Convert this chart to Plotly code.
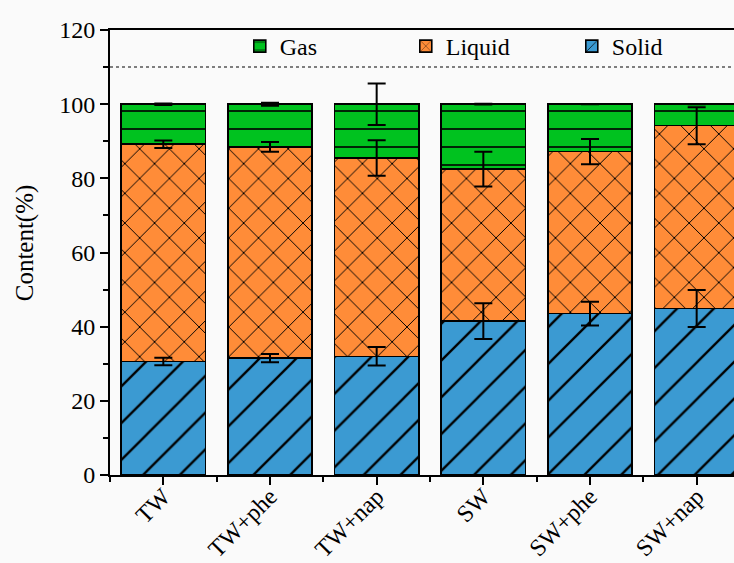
import numpy as np
import plotly.graph_objects as go

categories = ["TW", "TW+phe", "TW+nap", "SW", "SW+phe", "SW+nap"]
solid = [30.6, 31.5, 32.0, 41.5, 43.5, 44.9]
liquid = [58.6, 57.0, 53.5, 41.0, 43.7, 49.3]
gas = [10.8, 11.5, 14.5, 17.5, 12.8, 5.8]
solid_err = [1.0, 1.1, 2.5, 4.8, 3.2, 5.0]
liquid_err = [1.0, 1.3, 4.8, 4.7, 3.4, 5.0]
gas_err = [0.2, 0.4, 5.6, 0.1, 0.0, 0.0]
y_ticks = [0, 20, 40, 60, 80, 100, 120]
ref_line = 110

FONT = "Liberation Serif, Times New Roman, serif"
x = list(range(len(categories)))

green = "#00C21F"
orange = "#FF8C38"
blue = "#3B9AD2"

fig = go.Figure()

series = [
    ("Solid", solid, blue, "/", 26),
    ("Liquid", liquid, orange, "x", 21),
    ("Gas", gas, green, "-", 18),
]
for name, vals, col, shape, size in series:
    fig.add_trace(go.Bar(
        x=x, y=vals, name=name, width=0.79,
        marker=dict(color=col, line=dict(color="black", width=1.6),
                    pattern=dict(shape=shape, size=size, solidity=0.09,
                                 fgcolor="black", bgcolor=col, fillmode="replace")),
    ))

cum = np.cumsum([solid, liquid, gas], axis=0)
for tops, errs in zip(cum, [solid_err, liquid_err, gas_err]):
    errs = [e if e > 0 else None for e in errs]
    fig.add_trace(go.Scatter(
        x=x, y=list(tops), mode="markers", showlegend=False, hoverinfo="skip",
        marker=dict(size=1, opacity=0),
        error_y=dict(type="data", array=errs, visible=True, color="black",
                     thickness=2, width=9),
    ))

fig.add_shape(type="line", xref="paper", x0=0, x1=1, yref="y", y0=ref_line, y1=ref_line,
              line=dict(color="#555555", width=1.5, dash="dot"))

fig.add_annotation(text="Content(%)", textangle=-90, xref="paper", yref="paper",
                   x=-0.136, y=0.521, xanchor="center", yanchor="middle", showarrow=False,
                   font=dict(size=25, family=FONT, color="black"))

fig.update_layout(
    width=734, height=563,
    margin=dict(l=110, r=0, t=30, b=88, autoexpand=False),
    paper_bgcolor="#fafafa", plot_bgcolor="#fafafa",
    barmode="stack",
    font=dict(family=FONT, size=22, color="black"),
    legend=dict(orientation="h", traceorder="reversed", x=0.208, xanchor="left",
                y=1.0135, yanchor="top", bgcolor="rgba(0,0,0,0)",
                font=dict(size=24, family=FONT), entrywidth=121, entrywidthmode="pixels"),
    showlegend=True,
)
fig.update_xaxes(
    range=[-0.5, 5.35], tickvals=x, ticktext=categories, tickangle=-45,
    showline=True, linecolor="black", linewidth=2, mirror=True,
    ticks="outside", ticklen=8, tickwidth=2, tickcolor="black",
    minor=dict(tick0=0.5, dtick=1, ticks="outside", ticklen=5, tickwidth=2, tickcolor="black"),
    showgrid=False, zeroline=False, tickfont=dict(size=24, family=FONT), automargin=False,
    ticklabelstandoff=-12,
)
fig.update_yaxes(
    range=[0, 120], tickvals=y_ticks,
    showline=True, linecolor="black", linewidth=2,
    ticks="outside", ticklen=8, tickwidth=2, tickcolor="black",
    minor=dict(dtick=10, ticks="outside", ticklen=5, tickwidth=2, tickcolor="black"),
    showgrid=False, zeroline=False, tickfont=dict(size=24, family=FONT), automargin=False,
)

fig.write_html("out.html", config={"displayModeBar": False},
               post_script="document.body.style.margin='0';")
